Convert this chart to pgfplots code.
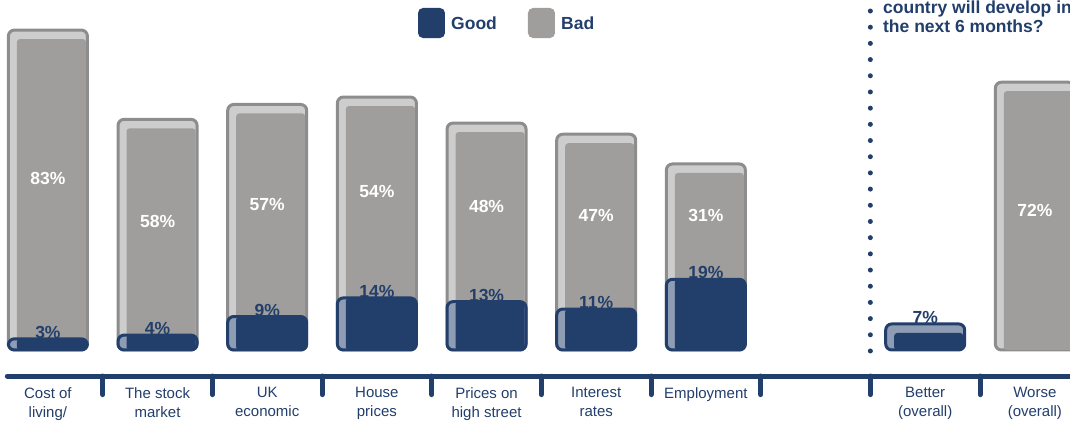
\documentclass[border=0pt]{standalone}
\usepackage{fontspec}
\setmainfont{Liberation Sans}
\usepackage{pgfplots}
\usepackage{pgfplotstable}
\pgfplotsset{compat=1.18}
\definecolor{navy}{HTML}{223E6B}
\definecolor{navylt}{HTML}{8E9CB4}
\definecolor{bargray}{HTML}{9F9E9C}
\definecolor{barline}{HTML}{8D8D8D}
\definecolor{barlt}{HTML}{CDCDCD}

\pgfplotstableread{
x good bad
0 3 83
1 4 58
2 9 57
3 14 54
4 13 48
5 11 47
6 19 31
8 7 0
9 0 72
}\data

\begin{document}
\begin{tikzpicture}
\begin{axis}[
  width=1070pt, height=424pt, scale only axis,
  xmin=-0.4368, xmax=9.3206, ymin=-19.89, ymax=94.09,
  clip=false,
  axis x line*=bottom, axis y line=none,
  x axis line style={draw=none},
  xtick={0,1,2,3,4,5,6,8,9},
  xticklabels={{Cost of\\living/},{The stock\\market},{UK\\economic},{House\\prices},{Prices on\\high street},{Interest\\rates},{Employment},{Better\\(overall)},{Worse\\(overall)}},
  major tick length=0pt,
  xticklabel style={align=center, font=\fontsize{15}{19}\selectfont, text=navy, anchor=north, inner sep=0pt, yshift=37pt},
]
% gray outer (highlight)
\addplot[ybar, bar width=79pt, bar shift=0pt, fill=barlt, draw=barline, line width=3pt, rounded corners=6pt, skip coords between index={7}{8}]
  table[x=x, y expr=\thisrow{good}+\thisrow{bad}] {\data};
% gray inner
\addplot[ybar, bar width=69pt, bar shift=3.5pt, fill=bargray, draw=none, rounded corners=3pt, skip coords between index={7}{8}]
  table[x=x, y expr=\thisrow{good}+\thisrow{bad}-2.42] {\data};
% good labels (under navy bars)
\addplot[only marks, mark=none, point meta=explicit symbolic,
  nodes near coords={\pgfplotspointmeta\%},
  every node near coord/.append style={anchor=center, yshift=6.5pt, font=\bfseries\fontsize{17.5}{20}\selectfont, text=navy},
  skip coords between index={8}{9}]
  table[x=x, y=good, meta=good] {\data};
% navy outer
\addplot[ybar, bar width=79pt, bar shift=0pt, fill=navylt, draw=navy, line width=3pt, rounded corners=6pt, skip coords between index={8}{9}]
  table[x=x, y=good] {\data};
% navy inner
\addplot[ybar, bar width=69pt, bar shift=3.5pt, fill=navy, draw=none, rounded corners=3pt, skip coords between index={8}{9}]
  table[x=x, y expr={min(\thisrow{good},\thisrow{good}+\thisrow{bad}-2.42)}] {\data};
% bad labels
\addplot[only marks, mark=none, point meta=explicit symbolic,
  nodes near coords={\pgfplotspointmeta\%},
  every node near coord/.append style={anchor=center, yshift=6pt, font=\bfseries\fontsize{17.5}{20}\selectfont, text=white},
  skip coords between index={7}{8}]
  table[x=x, y expr=\thisrow{good}+\thisrow{bad}/2, meta=bad] {\data};

% baseline and separators
\draw[navy, line width=5pt, line cap=round] (axis cs:-0.37,-7) -- (axis cs:9.6,-7);
\pgfplotsinvokeforeach{0.5,1.5,2.5,3.5,4.5,5.5,6.5,7.5,8.5}{
  \draw[navy, line width=5pt, line cap=round] (axis cs:#1,-7) -- (axis cs:#1,-12.0);
}
% dotted divider
\draw[navy, line width=5pt, line cap=round, dash pattern=on 0pt off 16.19pt] (axis cs:7.5,-0.27) -- (axis cs:7.5,91.13);
% legend
\fill[navy, rounded corners=5pt] (axis cs:3.375,83.87) rectangle (axis cs:3.621,91.94);
\node[anchor=west, inner sep=0pt, font=\bfseries\fontsize{17.5}{20}\selectfont, text=navy] at (axis cs:3.676,87.9) {Good};
\fill[bargray, rounded corners=5pt] (axis cs:4.378,83.87) rectangle (axis cs:4.624,91.94);
\node[anchor=west, inner sep=0pt, font=\bfseries\fontsize{17.5}{20}\selectfont, text=navy] at (axis cs:4.679,87.9) {Bad};
% question text
\node[anchor=base west, inner sep=0pt, font=\bfseries\fontsize{17.5}{20}\selectfont, text=navy] at (axis cs:7.615,90.59) {country will develop in};
\node[anchor=base west, inner sep=0pt, font=\bfseries\fontsize{17.5}{20}\selectfont, text=navy] at (axis cs:7.615,85.22) {the next 6 months?};
\end{axis}
\pgfresetboundingbox
\useasboundingbox (current axis.south west) rectangle (current axis.north east);
\end{tikzpicture}
\end{document}
